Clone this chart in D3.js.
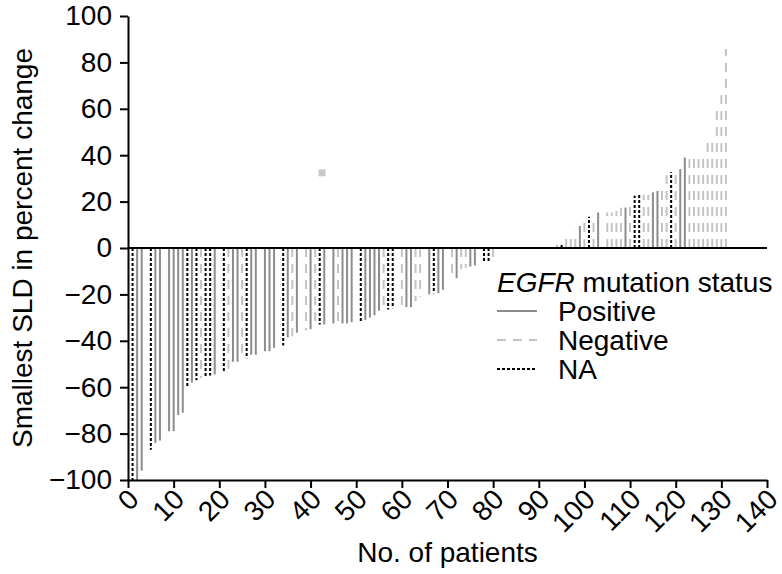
<!DOCTYPE html>
<html>
<head>
<meta charset="utf-8">
<script src="https://cdn.jsdelivr.net/npm/d3@7"></script>
<style>
  body { margin: 0; background: #fff; }
  text { font-family: Arial, "Liberation Sans", sans-serif; }
</style>
</head>
<body>
<div id="chart"></div>
<script>
// Data
const patients = [
  1, 2, 3, 5, 6, 7, 9, 10, 11, 12, 13, 14, 15, 16, 17, 18, 19, 21, 22, 23,
  24, 25, 26, 27, 28, 30, 31, 32, 34, 35, 36, 37, 39, 40, 41, 42, 43, 45, 46, 47,
  48, 49, 51, 52, 53, 54, 55, 56, 57, 58, 60, 61, 62, 63, 64, 66, 67, 68, 69, 71,
  72, 73, 74, 75, 76, 78, 79, 80,
  94, 95, 96, 97, 98, 99, 100, 101, 102, 103, 105, 106, 107, 108, 109, 110, 111, 112,
  113, 114, 115, 116, 117, 118, 119, 120, 121, 122, 123, 124, 125, 126, 127, 128, 129,
  130, 131
];
const change = [
  -100, -100, -96, -87, -84, -83, -79, -79, -72, -71, -60, -58, -57, -56, -55.5, -55, -54.5, -53.5, -52, -49,
  -49, -48, -47.5, -46, -46, -44.5, -44.5, -43, -42, -38.5, -38, -36.5, -35.5, -35, -33, -33, -33, -32.5, -32.5, -32.5,
  -32.5, -32, -32, -31, -30, -29, -27, -26.5, -26.5, -26, -25.5, -25.5, -25.5, -23, -21, -20, -19.5, -19.5, -18, -11.5,
  -13, -9, -8.5, -8, -7.5, -6, -6, -4,
  1.5, 2, 4.3, 4.3, 7, 9.5, 11.5, 13.5, 11.5, 15.3, 15.3, 15.3, 16, 17.4, 17.4, 18.3, 22.5, 23,
  23, 23, 24, 24.6, 24.6, 32.3, 32.6, 32.3, 34, 39, 39, 39, 39, 39, 45.5,
  46, 59, 67, 85.8
];
const status = [
  "NA", "Positive", "Positive", "NA", "Positive", "Positive", "Positive", "Positive", "Positive", "Positive",
  "NA", "Positive", "NA", "Negative", "NA", "NA", "Positive", "NA", "Negative", "Positive",
  "Positive", "Negative", "NA", "Positive", "Positive", "Positive", "Positive", "Positive", "NA", "Positive",
  "Negative", "Positive", "Negative", "Positive", "Negative", "NA", "Positive", "Positive", "Negative", "Positive",
  "Positive", "Positive", "NA", "Positive", "Positive", "Positive", "Positive", "Negative", "NA", "NA",
  "Negative", "Positive", "Positive", "Negative", "Negative", "Positive", "NA", "Positive", "Positive", "Negative",
  "Positive", "Negative", "Negative", "Positive", "Positive", "NA", "NA", "Negative",
  "Negative", "NA", "Negative", "Negative", "Negative", "Positive", "Negative", "NA", "Negative", "Positive",
  "Negative", "Negative", "Negative", "Negative", "Positive", "Negative", "NA", "NA",
  "Negative", "Negative", "Positive", "Positive", "Negative", "Negative", "NA", "Negative", "Positive", "Positive",
  "Negative", "Negative", "Negative", "Negative", "Negative", "Negative",
  "Negative", "Negative", "Negative", "Negative"
];
const statusLabels = ["Positive", "Negative", "NA"];
const yTicks = [-100, -80, -60, -40, -20, 0, 20, 40, 60, 80, 100];
const xTicks = [0, 10, 20, 30, 40, 50, 60, 70, 80, 90, 100, 110, 120, 130, 140];
// stray grey square printed in the original figure
const strayPoint = [42.5, 32.4];

const dataset = patients.map((p, i) => ({ patient: p, change: change[i], status: status[i] }));

// Dimensions
const width = 782;
const height = 574;
const margin = { top: 16, right: 15, bottom: 94, left: 128 };

const svg = d3.select("#chart")
  .append("svg")
  .attr("width", width)
  .attr("height", height);

// Scales
const xScale = d3.scaleLinear().domain([0, 140]).range([margin.left, width - margin.right]);
const yScale = d3.scaleLinear().domain([-100, 100]).range([height - margin.bottom, margin.top]);

// line style per status
const styles = {
  Positive: { stroke: "#8c8c8c", dash: null },
  Negative: { stroke: "#c4c4c4", dash: "9,7" },
  NA: { stroke: "#000", dash: "3,2" }
};

// Bars
svg.append("g")
  .selectAll("line")
  .data(dataset)
  .join("line")
  .attr("x1", (d) => xScale(d.patient))
  .attr("x2", (d) => xScale(d.patient))
  .attr("y1", yScale(0))
  .attr("y2", (d) => yScale(d.change))
  .attr("stroke", (d) => styles[d.status].stroke)
  .attr("stroke-width", 2)
  .attr("stroke-dasharray", (d) => styles[d.status].dash);

svg.append("rect")
  .attr("x", xScale(strayPoint[0]) - 3.5)
  .attr("y", yScale(strayPoint[1]) - 3.5)
  .attr("width", 7)
  .attr("height", 7)
  .attr("fill", "#c8c8c8");

// zero line
svg.append("line")
  .attr("x1", xScale(0))
  .attr("x2", xScale(140))
  .attr("y1", yScale(0))
  .attr("y2", yScale(0))
  .attr("stroke", "#000")
  .attr("stroke-width", 2);

// Axes
const yAxis = d3.axisLeft(yScale).tickValues(yTicks).tickSize(8).tickPadding(8).tickSizeOuter(0);
const yG = svg.append("g")
  .attr("transform", `translate(${margin.left},0)`)
  .call(yAxis);

const xAxis = d3.axisBottom(xScale).tickValues(xTicks).tickSize(8).tickSizeOuter(0);
const xG = svg.append("g")
  .attr("transform", `translate(0,${height - margin.bottom})`)
  .call(xAxis);

[yG, xG].forEach((g) => {
  g.select(".domain").attr("stroke", "#000").attr("stroke-width", 2);
  g.selectAll(".tick line").attr("stroke", "#000").attr("stroke-width", 2);
  g.selectAll("text").attr("fill", "#000").style("font-size", "28px")
    .style("font-family", "Arial, 'Liberation Sans', sans-serif");
});

xG.selectAll(".tick text")
  .attr("text-anchor", "end")
  .attr("dy", "0.35em")
  .attr("transform", "translate(5,14) rotate(-45)")
  .attr("x", 0)
  .attr("y", 0);

// Axis titles
svg.append("text")
  .attr("x", (xScale(0) + xScale(140)) / 2)
  .attr("y", 562)
  .attr("text-anchor", "middle")
  .style("font-size", "28px")
  .text("No. of patients");

svg.append("text")
  .attr("transform", `translate(32,${yScale(0)}) rotate(-90)`)
  .attr("text-anchor", "middle")
  .style("font-size", "28px")
  .text("Smallest SLD in percent change");

// Legend
const legend = svg.append("g").attr("transform", "translate(497,292)");
const title = legend.append("text").style("font-size", "28px");
title.append("tspan").style("font-style", "italic").text("EGFR");
title.append("tspan").text(" mutation status");

statusLabels.forEach((s, i) => {
  const ly = 19 + i * 29;
  legend.append("line")
    .attr("x1", 0).attr("x2", 40)
    .attr("y1", ly).attr("y2", ly)
    .attr("stroke", styles[s].stroke)
    .attr("stroke-width", 2)
    .attr("stroke-dasharray", styles[s].dash);
  legend.append("text")
    .attr("x", 61)
    .attr("y", ly + 10)
    .style("font-size", "28px")
    .text(s);
});
</script>
</body>
</html>
